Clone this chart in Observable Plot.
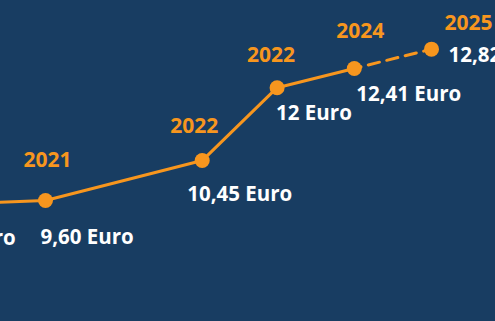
<!DOCTYPE html>
<html>
<head>
<meta charset="utf-8">
<script src="https://cdn.jsdelivr.net/npm/d3@7"></script>
<script src="https://cdn.jsdelivr.net/npm/@observablehq/plot@0.6"></script>
<style>
  html, body { margin: 0; padding: 0; background: #183d62; }
  #chart { width: 495px; height: 321px; overflow: hidden; }
  svg { display: block; }
</style>
</head>
<body>
<div id="chart"></div>
<script>
// Timeline step of each wage change (spacing as drawn in the original)
const steps = [-1.53, 0, 2.03, 3, 4, 5];
const years = ["2021", "2021", "2022", "2022", "2024", "2025"];
const wages = [9.50, 9.60, 10.45, 12.00, 12.41, 12.82];
const wageLabels = ["9,50 Euro", "9,60 Euro", "10,45 Euro", "12 Euro", "12,41 Euro", "12,82 Euro"];
const planned = [false, false, false, false, false, true];

const data = steps.map((s, i) => ({
  step: s, year: years[i], wage: wages[i], label: wageLabels[i], planned: planned[i]
}));
const firstPlanned = planned.indexOf(true);
const actual = data.slice(0, firstPlanned);
const future = data.slice(firstPlanned - 1);

const ORANGE = "#f7961e";
const BG = "#183d62";
const FONT = "'Open Sans', sans-serif";

// label offsets (px) relative to each point
const yearOff = [[0, -40], [2, -40], [-8, -34], [-6, -32], [6, -37], [37, -26]];
const valOff = [[-5, 33], [-5, 36.5], [-15, 34], [-1, 25.5], [2, 26.5], [17, 6]];

// the first point lies left of the visible window: only its value label tail shows
const yearMarks = data.map((d, i) => d.step < 0 ? null : Plot.text([d], {
  x: "step", y: "wage", text: "year",
  dx: yearOff[i][0], dy: yearOff[i][1],
  fill: ORANGE, fontSize: 21, fontWeight: "bold", textAnchor: "middle"
}));
const valueMarks = data.map((d, i) => Plot.text([d], {
  x: "step", y: "wage", text: "label",
  dx: valOff[i][0], dy: valOff[i][1],
  fill: "white", fontSize: 20.5, fontWeight: "bold", textAnchor: "start"
}));

const chart = Plot.plot({
  width: 495,
  height: 321,
  margin: 0,
  style: { background: BG, fontFamily: FONT, overflow: "hidden" },
  x: { type: "linear", domain: [-45 / 77.2, 450 / 77.2], range: [0, 495], axis: null },
  y: { type: "linear", domain: [9.6 - 121 / 47, 9.6 + 200 / 47], range: [321, 0], axis: null },
  marks: [
    Plot.line(actual, { x: "step", y: "wage", stroke: ORANGE, strokeWidth: 3 }),
    Plot.line(future, { x: "step", y: "wage", stroke: ORANGE, strokeWidth: 3,
      strokeDasharray: "11.5,7.5", strokeDashoffset: 4.6 }),
    Plot.dot(data, { x: "step", y: "wage", r: 7.5, fill: ORANGE, stroke: "none" }),
    ...yearMarks,
    ...valueMarks
  ]
});
document.getElementById("chart").appendChild(chart);
</script>
</body>
</html>
